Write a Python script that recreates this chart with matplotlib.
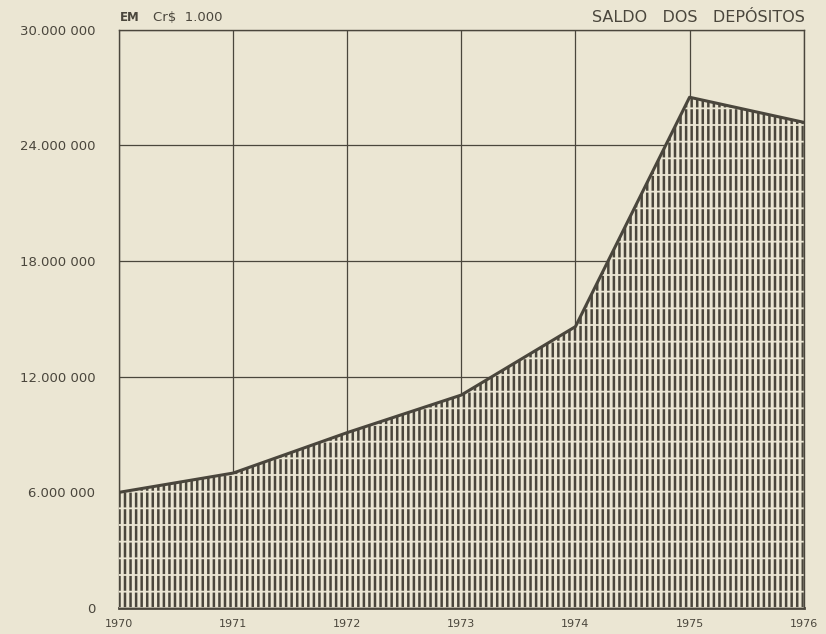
import matplotlib
matplotlib.use("Agg")
import matplotlib.pyplot as plt

# dados (em Cr$ 1.000)
anos = [1970, 1971, 1972, 1973, 1974, 1975, 1976]
saldo = [6000000, 7000000, 9100000, 11050000, 14600000, 26500000, 25200000]
y_ticks = [0, 6000000, 12000000, 18000000, 24000000, 30000000]
y_labels = ["0", "6.000 000", "12.000 000", "18.000 000", "24.000 000", "30.000 000"]
x_labels = ["1970", "1971", "1972", "1973", "1974", "1975", "1976"]

bg = "#ebe6d3"
ink = "#4a463c"

plt.rcParams['font.family'] = ['DejaVu Sans']

fig = plt.figure(figsize=(8.26, 6.34), dpi=100, facecolor=bg)
ax = fig.add_axes([0.144, 0.041, 0.829, 0.912])
ax.set_facecolor(bg)

# area hachurada: tracos verticais interrompidos por faixas horizontais
plt.rcParams['hatch.linewidth'] = 1.8
ax.fill_between(anos, 0, saldo, facecolor=bg, edgecolor=ink, hatch='|||', linewidth=0, zorder=2)
plt.rcParams['hatch.linewidth'] = 1.3
ax.fill_between(anos, 0, saldo, facecolor='none', edgecolor=bg, hatch='-', linewidth=0, zorder=3)
ax.plot(anos, saldo, color=ink, linewidth=2.2, zorder=4)

ax.set_xlim(1970, 1976)
ax.set_ylim(0, 30000000)
ax.set_xticks(anos)
ax.set_xticklabels(x_labels)
ax.set_yticks(y_ticks)
ax.set_yticklabels(y_labels)
ax.tick_params(axis='y', length=0, labelsize=9.5, colors=ink, pad=17)
ax.tick_params(axis='x', length=0, labelsize=8, colors=ink, pad=8)
ax.grid(True, color=ink, linewidth=0.9, zorder=1)
ax.set_axisbelow(True)

for s in ['top', 'left', 'right']:
    ax.spines[s].set_visible(True)
    ax.spines[s].set_color(ink)
    ax.spines[s].set_linewidth(1.0)
ax.spines['bottom'].set_color(ink)
ax.spines['bottom'].set_linewidth(2.0)

fig.text(0.145, 0.972, "EM", fontsize=8.5, color=ink, ha='left', va='center', fontweight='bold')
fig.text(0.185, 0.972, r"Cr\$  1.000", fontsize=9.5, color=ink, ha='left', va='center')
fig.text(0.975, 0.972, "SALDO   DOS   DEPÓSITOS", fontsize=11.5, color=ink, ha='right', va='center')

fig.savefig("out.png", dpi=100, facecolor=bg)
